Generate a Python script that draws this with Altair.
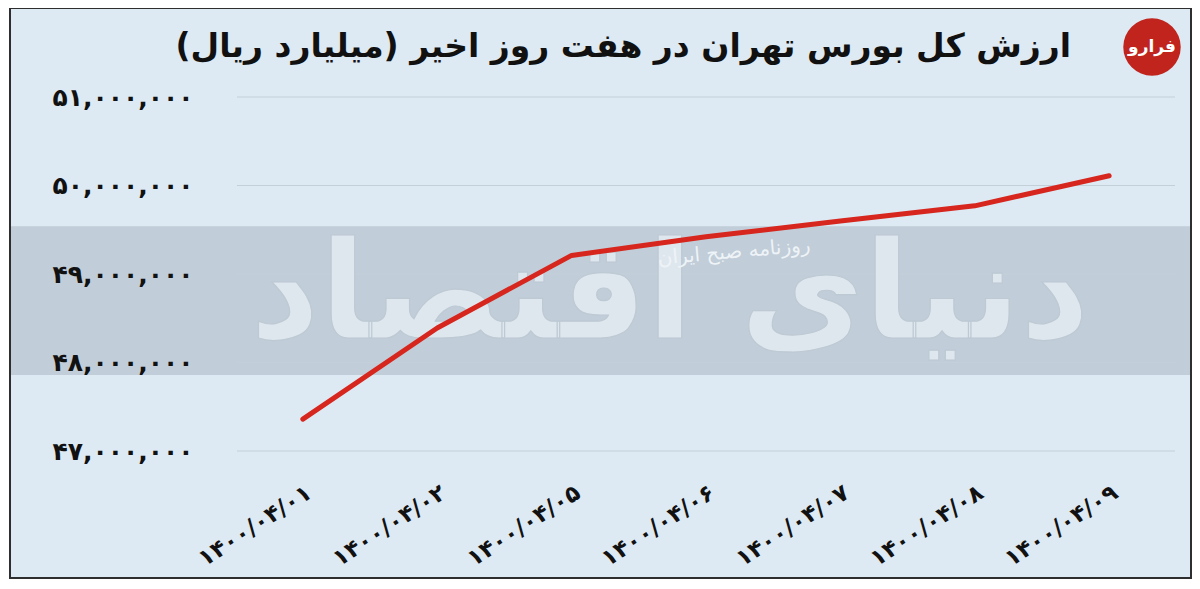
import altair as alt
import pandas as pd

# ---- data ----
dates = ["۱۴۰۰/۰۴/۰۱", "۱۴۰۰/۰۴/۰۲", "۱۴۰۰/۰۴/۰۵", "۱۴۰۰/۰۴/۰۶",
         "۱۴۰۰/۰۴/۰۷", "۱۴۰۰/۰۴/۰۸", "۱۴۰۰/۰۴/۰۹"]
values = [47360000, 48390000, 49210000, 49420000, 49600000, 49770000, 50110000]
y_ticks = [47000000, 48000000, 49000000, 50000000, 51000000]
y_tick_labels = ["۴۷,۰۰۰,۰۰۰", "۴۸,۰۰۰,۰۰۰", "۴۹,۰۰۰,۰۰۰", "۵۰,۰۰۰,۰۰۰", "۵۱,۰۰۰,۰۰۰"]
title_text = "ارزش کل بورس تهران در هفت روز اخیر (میلیارد ریال)"
band_range = [47860000, 49540000]
watermark = "دنیای اقتصاد"
stamp = "روزنامه صبح ایران"
logo = "فرارو"

FONT = "DejaVu Sans"
BG = "#dde9f3"

df = pd.DataFrame({"date": dates, "value": values})
band_df = pd.DataFrame({"lo": [band_range[0]], "hi": [band_range[1]]})
grid_df = pd.DataFrame({"tick": y_ticks})
one = pd.DataFrame({"k": [0]})

label_expr = "[" + ",".join("'%s'" % s for s in y_tick_labels) + "][round((datum.value - %d) / 1000000)]" % y_ticks[0]

y_scale = alt.Scale(domain=[y_ticks[0], y_ticks[-1]], nice=False, zero=False)

frame = alt.Chart(one).mark_rect(fill=BG, stroke="#2e2e2e", strokeWidth=2).encode(
    x=alt.value(-227), x2=alt.value(954), y=alt.value(-89), y2=alt.value(481)
)

band = alt.Chart(band_df).mark_rect(color="#a9b6c1", opacity=0.55).encode(
    x=alt.value(-226), x2=alt.value(953),
    y=alt.Y("lo:Q", scale=y_scale), y2="hi:Q"
)

grid = alt.Chart(grid_df).mark_rule(color="#c3d0da", strokeWidth=1).encode(
    y=alt.Y("tick:Q", scale=y_scale), x=alt.value(0), x2=alt.value(938)
)

wm = alt.Chart(one).mark_text(
    font=FONT, fontSize=135, fontWeight="bold", color="#e9f0f6", opacity=0.75,
    stroke="#bcc8d2", strokeWidth=1.2, align="center", baseline="middle"
).encode(x=alt.value(433), y=alt.value(200), text=alt.value(watermark + "\u200f"))

stamp_txt = alt.Chart(one).mark_text(
    font=FONT, fontSize=20, color="#eef3f7", angle=355, align="center", baseline="middle"
).encode(x=alt.value(497), y=alt.value(155), text=alt.value(stamp))

line = alt.Chart(df).mark_line(color="#d6261d", strokeWidth=5, strokeCap="round", strokeJoin="round").encode(
    x=alt.X("date:N", sort=dates, title="",
            scale=alt.Scale(type="point", padding=0.49),
            axis=alt.Axis(labelAngle=-33, labelFont=FONT, labelFontSize=23, labelFontWeight="bold",
                          labelColor="#111111", labelPadding=30, domain=False, ticks=False, grid=False,
                          zindex=1)),
    y=alt.Y("value:Q", scale=y_scale, title="",
            axis=alt.Axis(values=y_ticks, labelExpr=label_expr, labelFont=FONT, labelFontSize=25,
                          labelFontWeight="bold", labelColor="#111111", labelPadding=44,
                          domain=False, ticks=False, grid=False, zindex=1))
)

title = alt.Chart(one).mark_text(
    font=FONT, fontSize=33, fontWeight="bold", color="#111111", align="right", baseline="middle"
).encode(x=alt.value(834), y=alt.value(-50), text=alt.value(title_text + "\u200f"))

logo_circle = alt.Chart(one).mark_point(filled=True, color="#c0241d", opacity=1, size=3300, shape="circle").encode(
    x=alt.value(915), y=alt.value(-50)
)
logo_txt = alt.Chart(one).mark_text(
    font=FONT, fontSize=17, fontWeight="bold", color="white", align="center", baseline="middle"
).encode(x=alt.value(915), y=alt.value(-50), text=alt.value(logo))

chart = alt.layer(frame, band, grid, wm, stamp_txt, line, title, logo_circle, logo_txt).properties(
    width=938, height=354,
    padding={"left": 229, "top": 89, "right": 17, "bottom": 129},
    autosize=alt.AutoSizeParams(type="none"),
    background="white",
).configure_view(stroke=None)

chart.save("out.html", embed_options={"renderer": "svg", "actions": False})
